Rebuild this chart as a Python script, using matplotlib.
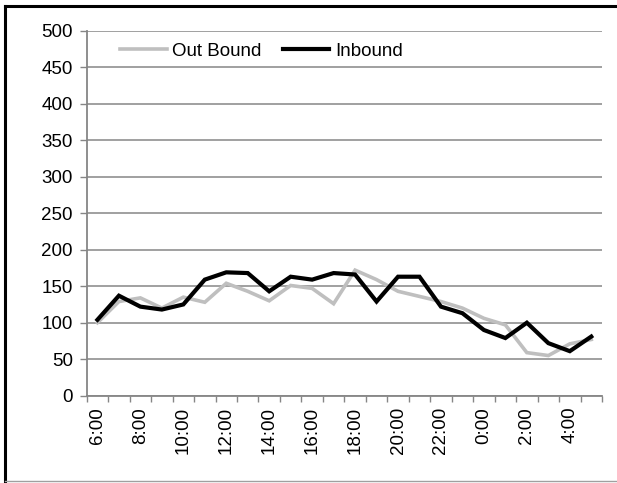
import matplotlib.pyplot as plt
import numpy as np
from matplotlib.lines import Line2D

plt.rcParams['font.family'] = ['Liberation Sans', 'DejaVu Sans']

hours = ['6:00', '7:00', '8:00', '9:00', '10:00', '11:00', '12:00', '13:00',
         '14:00', '15:00', '16:00', '17:00', '18:00', '19:00', '20:00', '21:00',
         '22:00', '23:00', '0:00', '1:00', '2:00', '3:00', '4:00', '5:00']
out_bound = [100, 129, 134, 120, 135, 128, 154, 143, 130, 151, 147, 126,
             172, 159, 143, 136, 129, 120, 106, 97, 59, 55, 71, 77]
inbound = [104, 137, 122, 118, 125, 159, 169, 168, 143, 163, 159, 168,
           166, 129, 163, 163, 122, 113, 90, 79, 100, 72, 61, 81]
y_ticks = [0, 50, 100, 150, 200, 250, 300, 350, 400, 450, 500]

W, H = 617, 483
fs = 13.5
fig = plt.figure(figsize=(W / 100, H / 100), dpi=100)
ax = fig.add_axes([86.7 / W, 1 - 395.7 / H, (602 - 86.7) / W, (395.7 - 30.7) / H])

grid_col = '#868686'
x = np.arange(len(hours))
ax.plot(x, out_bound, color='#bfbfbf', lw=2.6, solid_joinstyle='miter', label='Out Bound', zorder=3)
ax.plot(x, inbound, color='#000000', lw=3.0, solid_joinstyle='miter', label='Inbound', zorder=4)

ax.set_xlim(-0.5, len(hours) - 0.5)
ax.set_ylim(0, 500)
ax.set_yticks(y_ticks)
ax.yaxis.grid(True, color=grid_col, lw=1.1)
ax.set_axisbelow(True)

# tick marks on category boundaries, labels every second hour
ax.set_xticks(np.arange(-0.5, len(hours), 1.0))
ax.set_xticklabels([])
ax.set_xticks(x[::2], minor=True)
ax.set_xticklabels(hours[::2], minor=True, rotation=90, fontsize=fs)
ax.tick_params(axis='x', which='major', length=4, color=grid_col, width=1)
ax.tick_params(axis='x', which='minor', length=0, pad=8)
ax.tick_params(axis='y', length=5, color=grid_col, width=1, labelsize=fs, pad=5)

for s in ['top', 'right']:
    ax.spines[s].set_visible(False)
for s in ['left', 'bottom']:
    ax.spines[s].set_color(grid_col)
    ax.spines[s].set_linewidth(1.3)

ax.legend(loc='center left', ncol=2, frameon=False, fontsize=fs, handlelength=2.5,
          handletextpad=0.3, columnspacing=1.1, borderpad=0, borderaxespad=0,
          bbox_to_anchor=((120 - 86.7) / 515.3, (395.7 - 51) / 365))

# outer frame
fig.add_artist(Line2D([5 / W, 5 / W], [1 - 6 / H, 1 - 481 / H], color='black', lw=2.2))
fig.add_artist(Line2D([5 / W, 1.0], [1 - 6 / H, 1 - 6 / H], color='black', lw=2.2))
fig.add_artist(Line2D([5 / W, 1.0], [1 - 481 / H, 1 - 481 / H], color='#a0a0a0', lw=1))

fig.savefig('out.png', dpi=100)
